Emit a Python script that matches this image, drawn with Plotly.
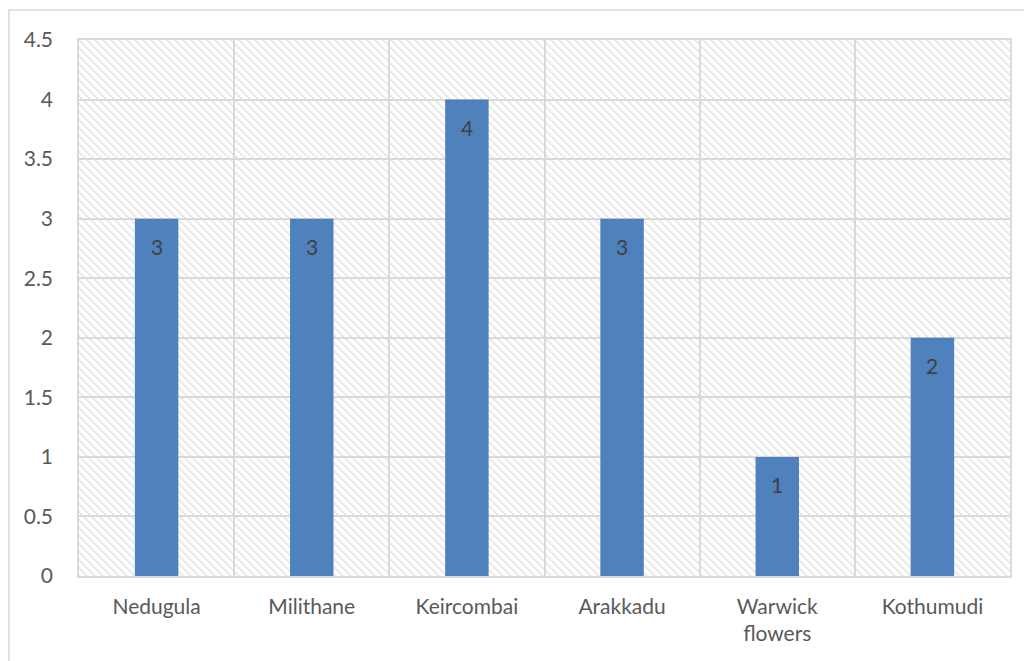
import base64
import plotly.graph_objects as go

categories = ["Nedugula", "Milithane", "Keircombai", "Arakkadu", "Warwick<br>flowers", "Kothumudi"]
values = [3, 3, 4, 3, 1, 2]
y_ticks = [0, 0.5, 1, 1.5, 2, 2.5, 3, 3.5, 4, 4.5]
y_ticktext = ["0", "0.5", "1", "1.5", "2", "2.5", "3", "3.5", "4", "4.5"]

W, H = 1024, 661
ML, MR, MT, MB = 79, 14, 40, 85
PW, PH = W - ML - MR, H - MT - MB

# hatch background (light downward diagonal)
svg = f'''<svg xmlns="http://www.w3.org/2000/svg" width="{PW}" height="{PH}" viewBox="0 0 {PW} {PH}">
<defs><pattern id="p" patternUnits="userSpaceOnUse" width="8" height="8">
<path d="M-2,-2 L10,10 M-2,6 L2,10 M6,-2 L10,2" stroke="#d4d4d4" stroke-width="1.6" stroke-dasharray="1.4,0.9"/>
</pattern></defs>
<rect width="{PW}" height="{PH}" fill="white"/>
<rect width="{PW}" height="{PH}" fill="url(#p)"/>
</svg>'''
src = "data:image/svg+xml;base64," + base64.b64encode(svg.encode()).decode()

font = "Lato, 'Open Sans', sans-serif"

fig = go.Figure()
fig.add_trace(go.Bar(
    x=categories, y=values,
    marker=dict(color="#4f81bd", line=dict(width=0)),
    width=0.28,
    hoverinfo="skip",
))

for c, v in zip(categories, values):
    fig.add_annotation(x=c, y=v, text=str(v), showarrow=False,
                       yanchor="middle", yshift=-28,
                       font=dict(family=font, size=21, color="#404040"))

fig.add_layout_image(dict(source=src, xref="paper", yref="paper", x=0, y=1,
                          sizex=1, sizey=1, xanchor="left", yanchor="top",
                          sizing="stretch", layer="below"))

# outer chart frame
fig.add_shape(type="rect", xref="paper", yref="paper",
              x0=(9 - ML) / PW, x1=(W + 10 - ML) / PW,
              y0=-(H + 10 - MT - PH) / PH, y1=(H - MB - 10) / PH,
              line=dict(color="#d9d9d9", width=1.5), fillcolor="rgba(0,0,0,0)", layer="below")

fig.update_layout(
    width=W, height=H,
    margin=dict(l=ML, r=MR, t=MT, b=MB),
    paper_bgcolor="white", plot_bgcolor="rgba(0,0,0,0)",
    showlegend=False,
    font=dict(family=font, size=21, color="#595959"),
    xaxis=dict(type="category", tickson="boundaries", showgrid=True,
               gridcolor="#d9d9d9", gridwidth=1.5, ticks="",
               showline=True, linecolor="#d9d9d9", linewidth=1.5, mirror=True,
               ticklabelstandoff=11, zeroline=False),
    yaxis=dict(range=[0, 4.5], tickvals=y_ticks, ticktext=y_ticktext,
               showgrid=True, gridcolor="#d9d9d9", gridwidth=1.5, ticks="",
               showline=True, linecolor="#d9d9d9", linewidth=1.5, mirror=True,
               zeroline=False, ticklabelstandoff=20),
)

fig.write_html("out.html")
